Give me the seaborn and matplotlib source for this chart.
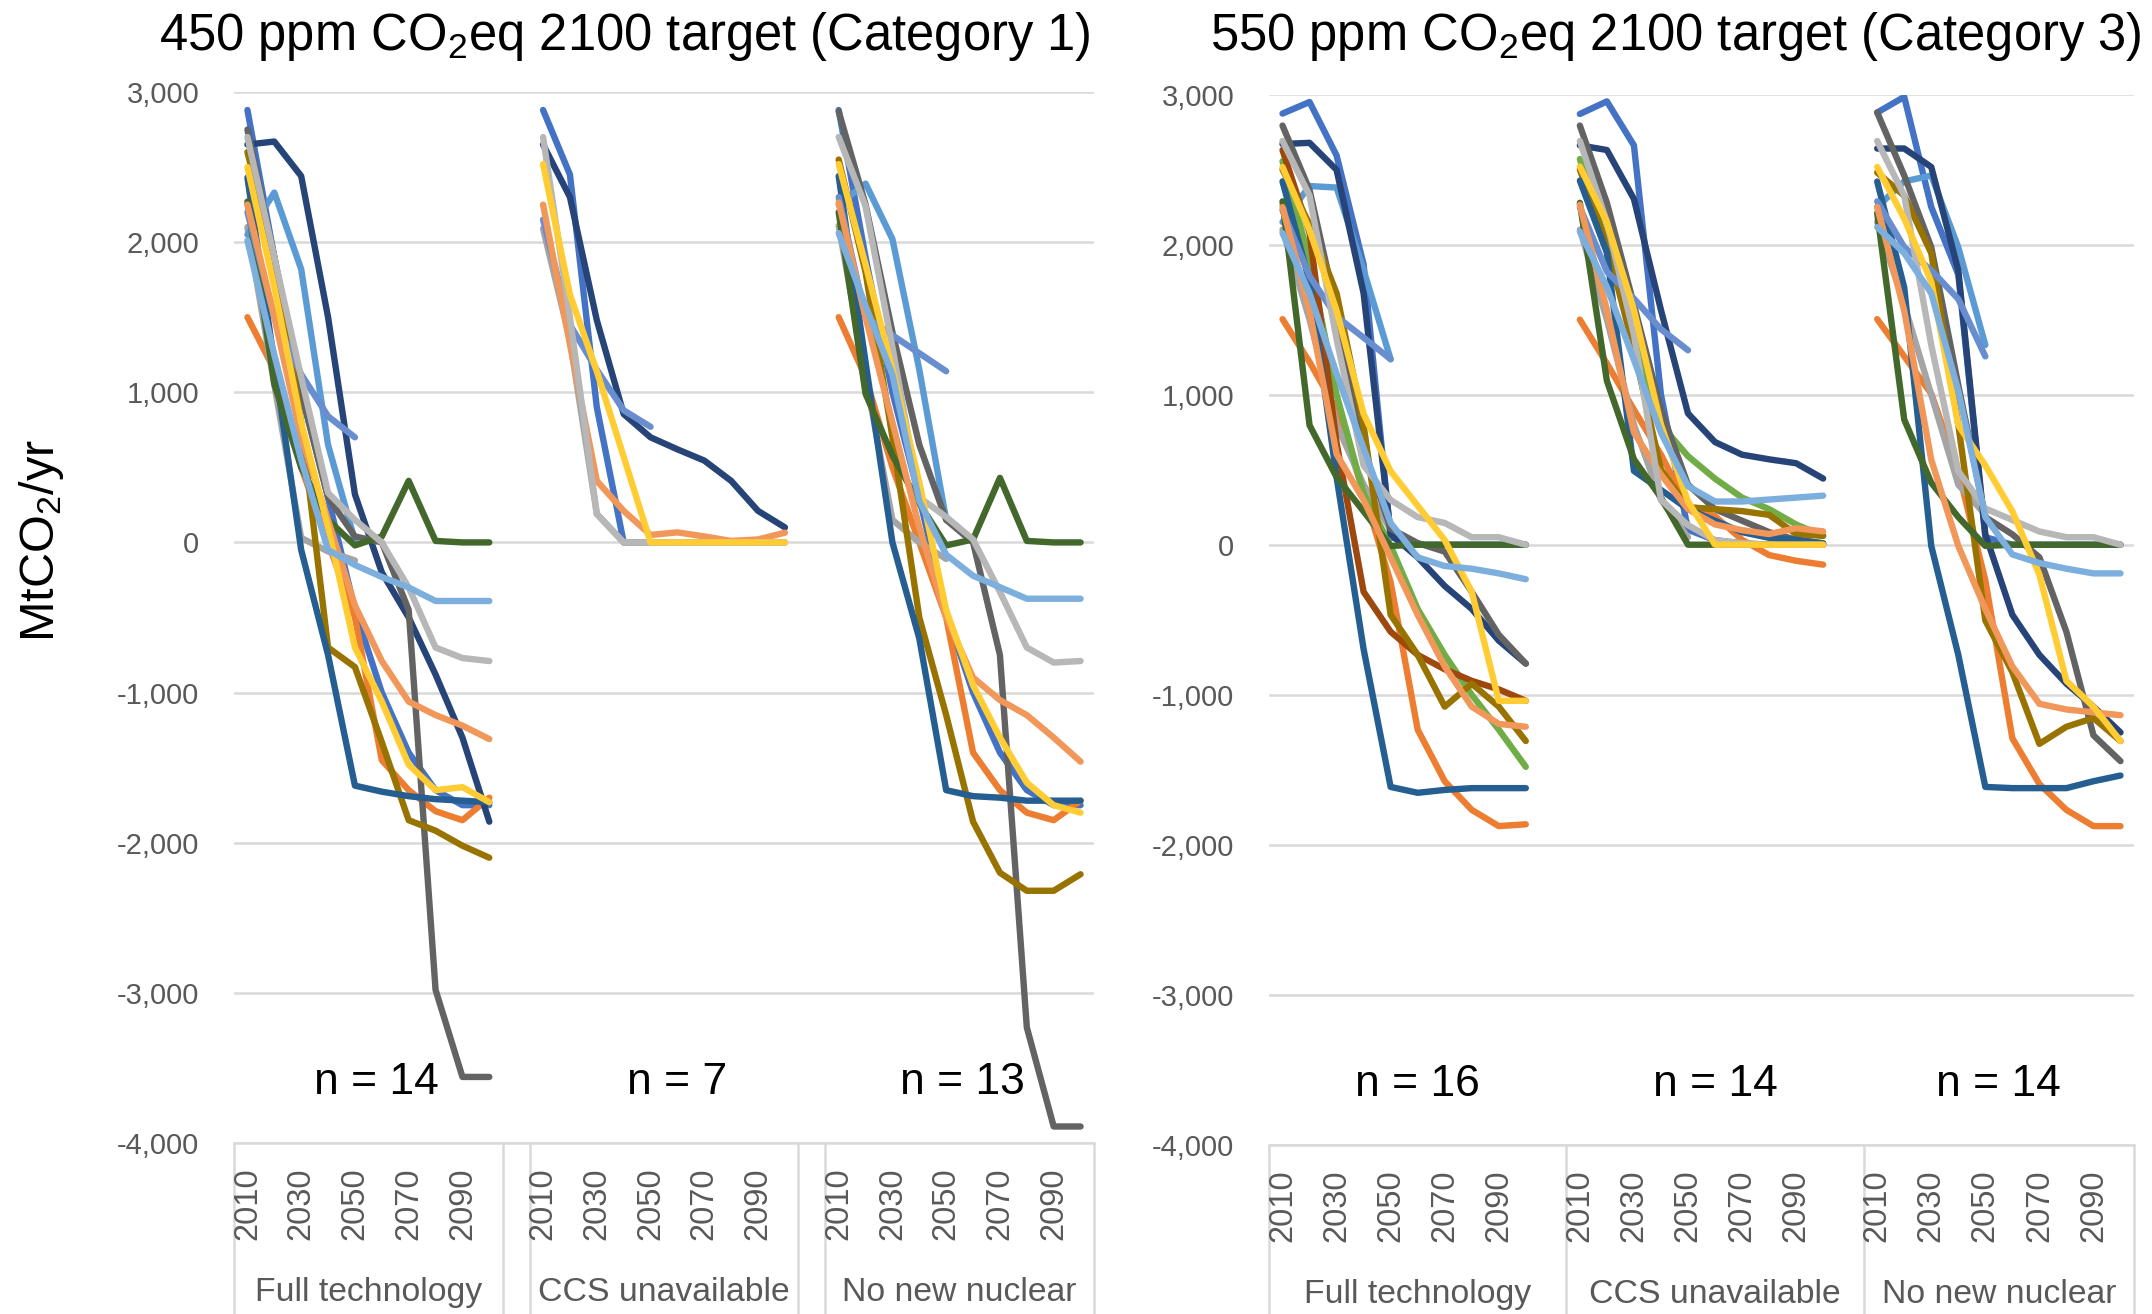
import numpy as np
import pandas as pd
import matplotlib
matplotlib.use("Agg")
import matplotlib.pyplot as plt
import seaborn as sns

# ---------------- data ----------------
YEARS = [2010, 2020, 2030, 2040, 2050, 2060, 2070, 2080, 2090, 2100]
SHOWN_YEARS = [2010, 2030, 2050, 2070, 2090]
GROUPS = ["Full technology", "CCS unavailable", "No new nuclear"]
TITLES = ["450 ppm CO$_\\mathregular{2}$eq 2100 target (Category 1)",
          "550 ppm CO$_\\mathregular{2}$eq 2100 target (Category 3)"]
N_450 = [14, 7, 13]
N_550 = [16, 14, 14]
Y_TICKS = [-4000, -3000, -2000, -1000, 0, 1000, 2000, 3000]
N = None

# 450 ppm, Full technology
FULL_450 = {
    "blue":        [2880, 1900, 1000, 300, -450, -1000, -1400, -1650, -1750, -1750],
    "orange":      [1500, 1150, 500, 0, -500, -1450, -1650, -1790, -1850, -1700],
    "gray":        [2100, 1050, 30, -60, -120, N, N, N, N, N],
    "midblue":     [2050, 2330, 1820, 650, 10, N, N, N, N, N],
    "darkblue":    [2650, 2670, 2440, 1500, 320, -200, -500, -880, -1300, -1860],
    "darkgray":    [2750, 1900, 1000, 300, 40, 0, -450, -2980, -3560, -3560],
    "darkgold":    [2600, 1900, 800, -700, -830, -1330, -1850, -1920, -2020, -2100],
    "steelblue":   [2430, 1200, -50, -750, -1620, -1660, -1690, -1710, -1720, -1730],
    "darkgreen":   [2270, 1055, 500, 150, -20, 40, 410, 10, 0, 0],
    "lighterblue": [2200, 1500, 1120, 840, 700, N, N, N, N, N],
    "lightorange": [2250, 1500, 700, 150, -420, -790, -1060, -1150, -1220, -1310],
    "lightgray":   [2700, 1900, 1100, 330, 150, 0, -300, -700, -770, -790],
    "gold":        [2500, 1700, 800, 100, -700, -1060, -1480, -1650, -1630, -1730],
    "lightblue":   [2010, 1250, 550, -50, -150, -230, -300, -390, -390, -390],
}
# 450 ppm, CCS unavailable
CCS_450 = {
    "blue":        [2880, 2450, 900, 0, 0, 0, 0, 0, 0, 0],
    "gray":        [2090, 1350, 190, 0, 0, N, N, N, N, N],
    "darkblue":    [2650, 2300, 1480, 855, 700, 620, 545, 410, 210, 100],
    "lighterblue": [2150, 1450, 1150, 880, 770, N, N, N, N, N],
    "lightorange": [2250, 1320, 410, 210, 50, 67, 40, 10, 20, 65],
    "lightgray":   [2700, 1500, 190, 0, 0, 0, 0, 0, 0, 0],
    "gold":        [2520, 1650, 1140, 570, 0, 0, 0, 0, 0, 0],
}
# 450 ppm, No new nuclear
NUC_450 = {
    "blue":        [2880, 1900, 1000, 300, -470, -1000, -1400, -1650, -1750, -1750],
    "orange":      [1500, 1100, 500, 0, -500, -1400, -1650, -1800, -1850, -1720],
    "gray":        [2110, 1100, 150, 0, -110, N, N, N, N, N],
    "midblue":     [2250, 2390, 2020, 1150, 150, N, N, N, N, N],
    "darkgray":    [2870, 2250, 1400, 650, 150, 0, -750, -3230, -3890, -3890],
    "darkgold":    [2550, 1800, 700, -500, -1150, -1860, -2200, -2320, -2320, -2210],
    "steelblue":   [2440, 1200, 0, -640, -1650, -1690, -1700, -1720, -1720, -1720],
    "darkgreen":   [2200, 990, 580, 260, -20, 20, 430, 10, 0, 0],
    "lighterblue": [2300, 1500, 1380, 1260, 1140, N, N, N, N, N],
    "lightorange": [2264, 1500, 800, 100, -500, -900, -1050, -1150, -1300, -1460],
    "lightgray":   [2700, 2240, 1300, 300, 170, 20, -330, -700, -800, -790],
    "gold":        [2520, 1850, 1150, 400, -450, -950, -1300, -1600, -1750, -1800],
    "lightblue":   [2060, 1576, 1117, 275, -82, -222, -298, -375, -375, -375],
}
# 550 ppm, Full technology
FULL_550 = {
    "blue":        [2873, 2950, 2594, 1867, 50, 0, 0, 0, 0, 0],
    "orange":      [1503, 1217, 900, 350, -250, -1232, -1576, -1767, -1875, -1863],
    "gray":        [2100, 1500, 800, 400, 100, N, N, N, N, N],
    "midblue":     [2150, 2390, 2380, 1830, 1236, N, N, N, N, N],
    "green":       [2555, 1900, 1000, 340, -8, -428, -734, -1000, -1232, -1480],
    "darkblue":    [2670, 2678, 2498, 1675, 70, -84, -275, -428, -639, -792],
    "darkorange":  [2630, 2080, 680, -314, -580, -734, -830, -907, -964, -1040],
    "darkgray":    [2793, 2364, 1560, 643, 107, 11, -46, -314, -600, -792],
    "darkgold":    [2500, 2135, 1676, 796, -467, -734, -1079, -926, -1079, -1308],
    "steelblue":   [2421, 1752, 451, -696, -1614, -1653, -1634, -1622, -1622, -1622],
    "darkgreen":   [2288, 796, 451, 222, -8, 0, 0, 0, 0, 0],
    "lighterblue": [2230, 1790, 1520, 1380, 1236, N, N, N, N, N],
    "lightorange": [2250, 1560, 604, 298, -84, -467, -811, -1079, -1194, -1213],
    "lightgray":   [2690, 2326, 1370, 528, 298, 184, 145, 50, 50, 0],
    "gold":        [2517, 2096, 1560, 872, 490, 260, 31, -314, -1040, -1040],
    "lightblue":   [2077, 1676, 1140, 643, 145, -84, -142, -160, -191, -230],
}
# 550 ppm, CCS unavailable
CCS_550 = {
    "blue":        [2870, 2954, 2661, 1000, 100, 30, 10, 0, 0, 0],
    "orange":      [1500, 1207, 900, 600, 250, 190, 33, -69, -107, -133],
    "gray":        [2100, 1500, 800, 300, 50, N, N, N, N, N],
    "green":       [2570, 2000, 1400, 800, 590, 440, 314, 237, 135, 59],
    "darkblue":    [2661, 2630, 2304, 1564, 875, 684, 600, 569, 543, 441],
    "darkgray":    [2793, 2278, 1600, 900, 400, 237, 160, 84, 33, 10],
    "darkgold":    [2500, 2000, 1300, 500, 250, 237, 224, 199, 71, 59],
    "steelblue":   [2426, 1946, 492, 365, 237, 160, 84, 46, 33, 8],
    "darkgreen":   [2278, 1092, 569, 314, 0, 0, 0, 0, 0, 0],
    "lighterblue": [2250, 1820, 1640, 1436, 1296, N, N, N, N, N],
    "lightorange": [2265, 1564, 747, 467, 237, 135, 97, 71, 110, 89],
    "lightgray":   [2690, 2150, 1400, 300, 130, 30, 10, 0, 0, 0],
    "gold":        [2520, 2150, 1564, 800, 288, 0, 0, 0, 0, 0],
    "lightblue":   [2087, 1717, 1232, 747, 390, 288, 288, 301, 314, 327],
}
# 550 ppm, No new nuclear
NUC_550 = {
    "blue":        [2880, 2984, 2250, 1800, 50, 0, 0, 0, 0, 0],
    "orange":      [1503, 1255, 1006, 490, -237, -1290, -1595, -1767, -1875, -1875],
    "gray":        [2150, 1600, 1000, 400, 200, N, N, N, N, N],
    "midblue":     [2250, 2421, 2460, 1982, 1331, N, N, N, N, N],
    "darkblue":    [2640, 2640, 2517, 1829, 69, -467, -734, -926, -1079, -1251],
    "darkgray":    [2880, 2460, 1982, 1063, 184, 69, -84, -581, -1270, -1442],
    "darkgold":    [2480, 2326, 1943, 800, -505, -849, -1327, -1213, -1155, -1308],
    "steelblue":   [2420, 1714, -8, -734, -1614, -1622, -1622, -1622, -1576, -1538],
    "darkgreen":   [2211, 834, 413, 184, -8, 0, 0, 0, 0, 0],
    "lighterblue": [2288, 1982, 1829, 1637, 1255, N, N, N, N, N],
    "lightorange": [2250, 1560, 566, -8, -428, -811, -1060, -1098, -1117, -1136],
    "lightgray":   [2690, 2326, 1330, 490, 241, 165, 88, 50, 50, 0],
    "gold":        [2517, 2173, 1752, 796, 528, 222, -199, -907, -1079, -1308],
    "lightblue":   [2116, 1943, 1676, 1025, 184, -65, -122, -160, -191, -191],
}

# Excel-like series colours, in drawing order
SERIES_ORDER = ["blue", "orange", "gray", "midblue", "green", "darkblue",
                "darkorange", "darkgray", "darkgold", "steelblue", "darkgreen",
                "lighterblue", "lightorange", "lightgray", "gold", "lightblue"]
COLORS = {
    "blue": "#4472C4", "orange": "#ED7D31", "gray": "#A5A5A5", "gold": "#FFCD33",
    "midblue": "#5B9BD5", "green": "#70AD47", "darkblue": "#264478",
    "darkorange": "#9E480E", "darkgray": "#636363", "darkgold": "#997300",
    "steelblue": "#255E91", "darkgreen": "#43682B", "lighterblue": "#698ED0",
    "lightorange": "#F1975A", "lightgray": "#B7B7B7", "lightblue": "#7CAFDD",
}

# ---------------- style ----------------
sns.set_style("white")
REG = ["Liberation Sans", "DejaVu Sans"]
plt.rcParams["font.family"] = REG
plt.rcParams["mathtext.fontset"] = "custom"
plt.rcParams["mathtext.rm"] = "Liberation Sans"
plt.rcParams["mathtext.it"] = "Liberation Sans:italic"
plt.rcParams["mathtext.bf"] = "Liberation Sans:bold"

GRID = "#D9D9D9"
TXT = "#595959"

fig = plt.figure(figsize=(21.52, 13.14), dpi=100)
ax1 = fig.add_axes([234 / 2152, 1 - 1143 / 1314, (1094 - 234) / 2152, (1143 - 92) / 1314])
ax2 = fig.add_axes([1269 / 2152, 1 - 1145 / 1314, (2134 - 1269) / 2152, (1145 - 94.5) / 1314])


def build_frame(groups):
    rows = []
    for gi, gdata in enumerate(groups):
        for name, vals in gdata.items():
            for k, v in enumerate(vals):
                if v is None:
                    continue
                rows.append({"line": f"{gi}-{name}", "series": name,
                             "x": gi * 11 + k, "value": v})
    return pd.DataFrame(rows)


def draw_panel(ax, groups, nvals, separators, group_centers, n_centers, ypad):
    df = build_frame(groups)
    order = sorted(df["line"].unique(),
                   key=lambda s: (SERIES_ORDER.index(s.split("-", 1)[1]), s))
    pal = {k: COLORS[k.split("-", 1)[1]] for k in order}
    sns.lineplot(data=df, x="x", y="value", hue="line", hue_order=order,
                 palette=pal, estimator=None, legend=False, ax=ax, sort=True,
                 linewidth=4.6, solid_capstyle="round", solid_joinstyle="round")
    ax.set_xlim(-0.5, 31.5)
    ax.set_ylim(-4000, 3000)
    ax.set_xlabel("")
    ax.set_ylabel("")
    ax.set_yticks(Y_TICKS)
    ax.set_yticklabels([f"{v:,}" for v in Y_TICKS])
    ax.set_xticks([])
    ax.tick_params(axis="y", length=0, pad=ypad, labelsize=21, labelcolor=TXT)
    ax.yaxis.grid(True, color=GRID, linewidth=1.8)
    ax.set_axisbelow(True)
    for side in ["top", "left", "right"]:
        ax.spines[side].set_visible(False)
    ax.spines["bottom"].set_color(GRID)
    ax.spines["bottom"].set_linewidth(1.8)

    trans = ax.get_xaxis_transform()
    for e in separators:
        ax.plot([e, e], [0, -0.2], transform=trans, color=GRID, lw=1.8,
                clip_on=False, solid_capstyle="butt")
    for gi in range(3):
        for k, yr in enumerate(YEARS):
            if yr in SHOWN_YEARS:
                ax.text(gi * 11 + k, -0.0235, str(yr), transform=trans, rotation=90,
                        ha="center", va="top", fontsize=23.5, color=TXT)
        ax.text(group_centers[gi], -0.1505, GROUPS[gi], transform=trans,
                ha="center", va="baseline", fontsize=24.3, color=TXT)
        ax.text(n_centers[gi], -3600, f"n = {nvals[gi]}", ha="center", va="center",
                fontsize=32, color="black")


draw_panel(ax1, [FULL_450, CCS_450, NUC_450], N_450,
           [-0.5, 9.5, 10.5, 20.5, 21.5, 31.5], [4.5, 15.5, 26.5], [4.8, 16.0, 26.6], 25)
draw_panel(ax2, [FULL_550, CCS_550, NUC_550], N_550,
           [-0.5, 10.5, 21.5, 31.5], [5.0, 16.0, 26.5], [5.0, 16.0, 26.5], 25)

fig.text(625 / 2152, 1 - 50 / 1314, TITLES[0], ha="center", va="baseline",
         fontsize=36.5, color="black")
fig.text(1676 / 2152, 1 - 50 / 1314, TITLES[1], ha="center", va="baseline",
         fontsize=36.5, color="black")
fig.text(41 / 2152, 1 - 541 / 1314, "MtCO$_\\mathregular{2}$/yr", rotation=90,
         ha="center", va="center", fontsize=35, color="black")

fig.savefig("out.png", dpi=100)
